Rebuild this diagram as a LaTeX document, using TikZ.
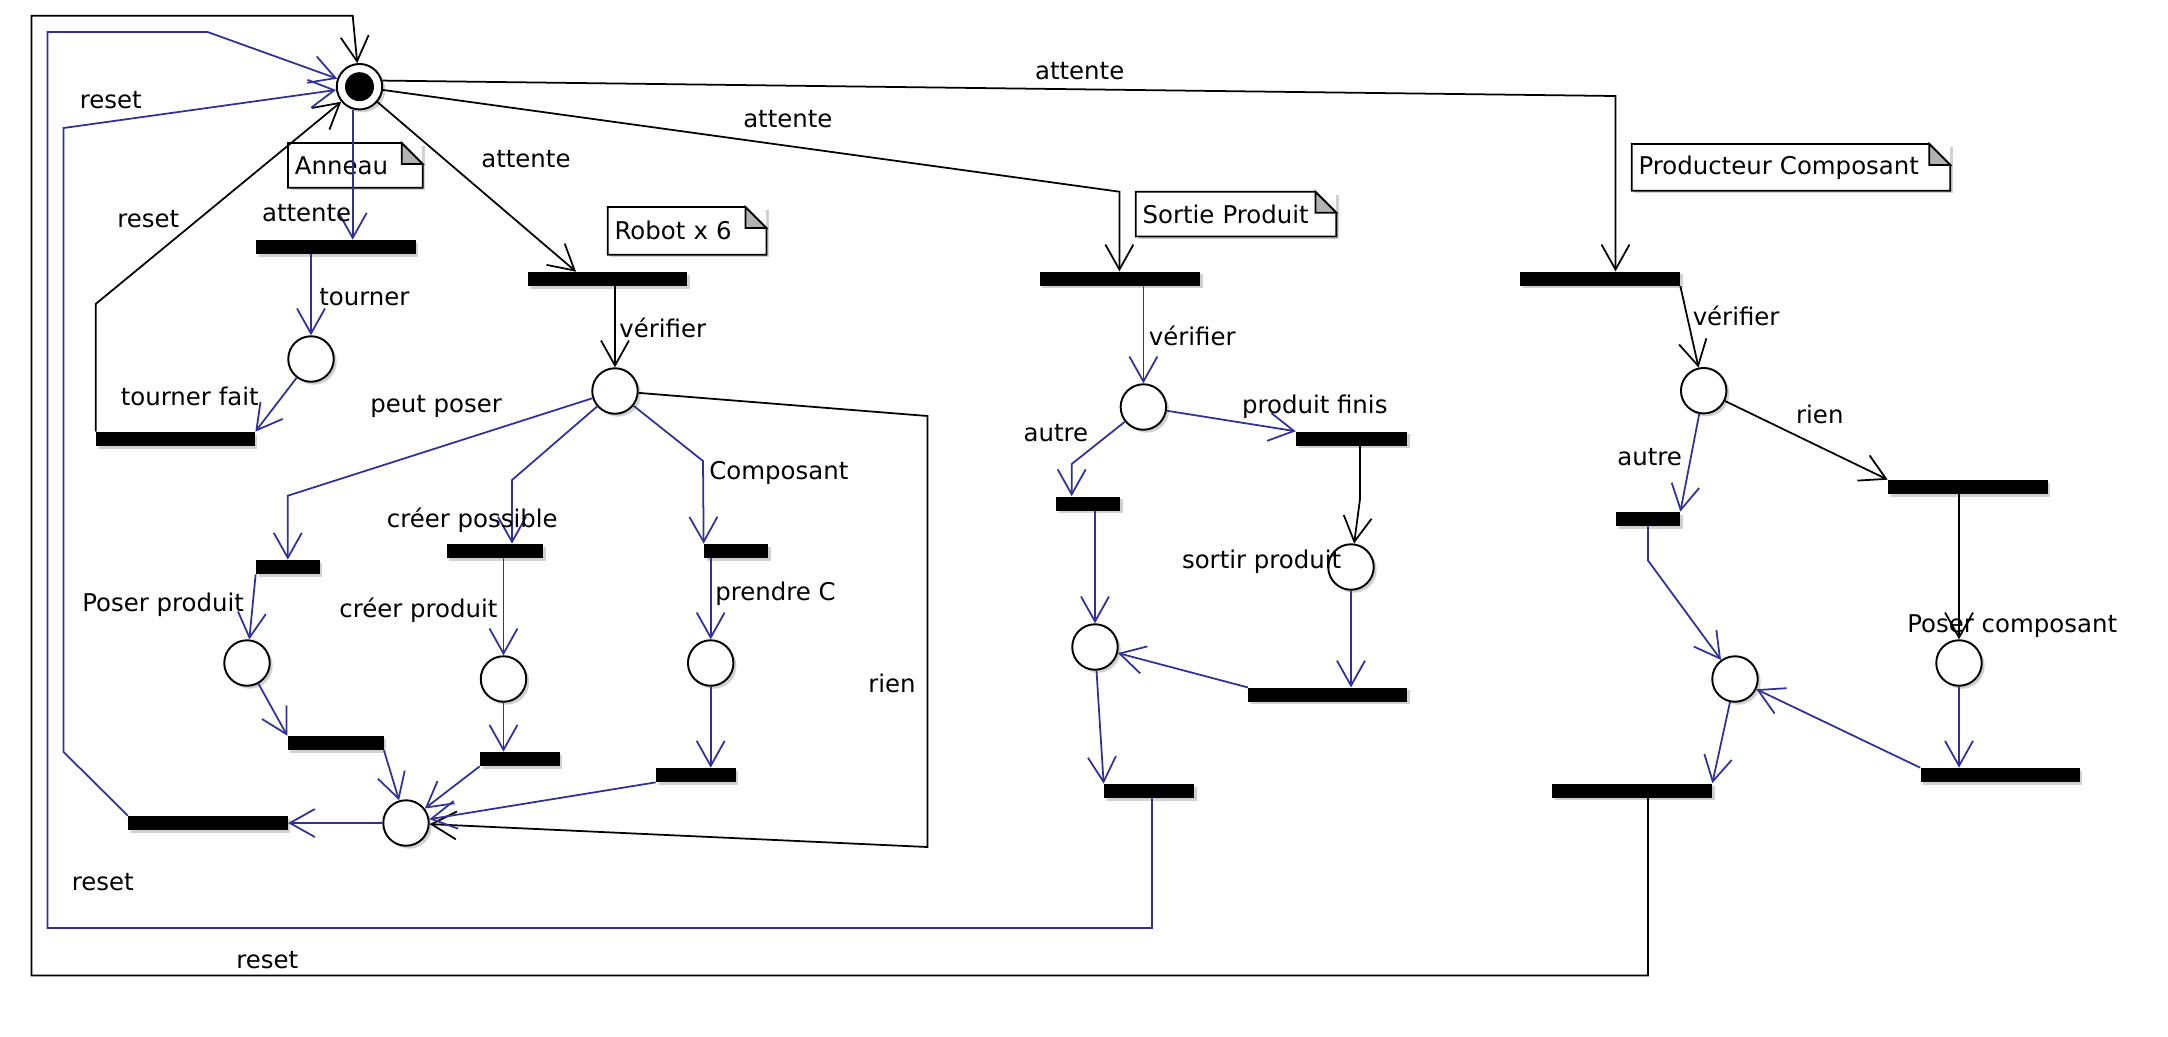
\documentclass[tikz,border=0pt]{standalone}
\usepackage{fontspec}
\setmainfont{DejaVu Sans}
\usetikzlibrary{arrows.meta,shadows}
\definecolor{pnblue}{RGB}{48,48,150}

\begin{document}
\begin{tikzpicture}[x=0.02cm,y=-0.02cm,
  every node/.style={font=\fontsize{13.9}{16}\selectfont},
  placenode/.style={circle,draw,line width=1.1pt,fill=white,minimum size=0.91cm,inner sep=0pt,
    drop shadow={shadow xshift=0.06cm,shadow yshift=-0.06cm,fill=black!18,opacity=1}},
  transbar/.style={rectangle,fill=black,minimum height=0.28cm,inner sep=0pt,
    drop shadow={shadow xshift=0.05cm,shadow yshift=-0.05cm,fill=black!18,opacity=1}},
  notebox/.style={anchor=north west,align=left,fill=white,inner xsep=0.13cm,inner ysep=0pt,
    minimum height=0.88cm,
    drop shadow={shadow xshift=0.06cm,shadow yshift=-0.06cm,fill=black!18,opacity=1}},
  lbl/.style={anchor=base west,inner sep=0pt},
  arcK/.style={draw=black,line width=1pt,-{Straight Barb[length=0.5cm,width=0.56cm]}},
  arcB/.style={arcK,draw=pnblue},
]
\path[use as bounding box] (0,0) rectangle (2168,1036);

% notes
\node[notebox,text width=2.42cm] (nAnneau) at (288,143) {Anneau};
\node[notebox,text width=2.9cm,minimum height=0.94cm] (nRobot) at (607.7,207) {Robot x 6};
\node[notebox,text width=3.74cm] (nSortie) at (1135.7,191.7) {Sortie Produit};
\node[notebox,text width=6.1cm,minimum height=0.92cm] (nProd) at (1631.7,144) {Producteur Composant};
\draw[line width=1pt] (nAnneau.south west) -- (nAnneau.north west) -- ([xshift=-0.42cm]nAnneau.north east) -- ([yshift=-0.42cm]nAnneau.north east) -- (nAnneau.south east) -- cycle;
\draw[line width=1pt,fill=black!30] ([xshift=-0.42cm]nAnneau.north east) -- ([yshift=-0.42cm]nAnneau.north east) -- ([xshift=-0.42cm,yshift=-0.42cm]nAnneau.north east) -- cycle;
\draw[line width=1pt] (nRobot.south west) -- (nRobot.north west) -- ([xshift=-0.42cm]nRobot.north east) -- ([yshift=-0.42cm]nRobot.north east) -- (nRobot.south east) -- cycle;
\draw[line width=1pt,fill=black!30] ([xshift=-0.42cm]nRobot.north east) -- ([yshift=-0.42cm]nRobot.north east) -- ([xshift=-0.42cm,yshift=-0.42cm]nRobot.north east) -- cycle;
\draw[line width=1pt] (nSortie.south west) -- (nSortie.north west) -- ([xshift=-0.42cm]nSortie.north east) -- ([yshift=-0.42cm]nSortie.north east) -- (nSortie.south east) -- cycle;
\draw[line width=1pt,fill=black!30] ([xshift=-0.42cm]nSortie.north east) -- ([yshift=-0.42cm]nSortie.north east) -- ([xshift=-0.42cm,yshift=-0.42cm]nSortie.north east) -- cycle;
\draw[line width=1pt] (nProd.south west) -- (nProd.north west) -- ([xshift=-0.42cm]nProd.north east) -- ([yshift=-0.42cm]nProd.north east) -- (nProd.south east) -- cycle;
\draw[line width=1pt,fill=black!30] ([xshift=-0.42cm]nProd.north east) -- ([yshift=-0.42cm]nProd.north east) -- ([xshift=-0.42cm,yshift=-0.42cm]nProd.north east) -- cycle;

% places
\node[placenode] (pInit) at (359.5,86.7) {};
\node[circle,fill=black,minimum size=0.58cm,inner sep=0pt] (pInitDot) at (pInit) {};
\node[placenode] (pTourner) at (311,359) {};
\node[placenode] (pRobot) at (615,391) {};
\node[placenode] (pPoser) at (247,663) {};
\node[placenode] (pCreer) at (503.5,679) {};
\node[placenode] (pPrendre) at (710.7,663) {};
\node[placenode] (pJoin) at (406,823) {};
\node[placenode] (pSorVerif) at (1143.4,407) {};
\node[placenode] (pSorSortir) at (1351,567) {};
\node[placenode] (pSorJoin) at (1095,647) {};
\node[placenode] (pProVerif) at (1703.7,390.7) {};
\node[placenode] (pProPoser) at (1959,663) {};
\node[placenode] (pProJoin) at (1735,679) {};

% transitions
\node[transbar,minimum width=3.2cm] (tAnnAtt) at (336,247) {};
\node[transbar,minimum width=3.18cm] (tAnnFait) at (175.5,439) {};
\node[transbar,minimum width=3.19cm] (tRobAtt) at (607.75,279) {};
\node[transbar,minimum width=1.28cm] (tPoserDeb) at (288,567) {};
\node[transbar,minimum width=1.93cm] (tCreerDeb) at (495,551) {};
\node[transbar,minimum width=1.28cm] (tCompDeb) at (736,551) {};
\node[transbar,minimum width=1.92cm] (tPoserFin) at (335.6,743) {};
\node[transbar,minimum width=1.6cm] (tCreerFin) at (520,759) {};
\node[transbar,minimum width=1.6cm] (tPrendFin) at (696,775) {};
\node[transbar,minimum width=3.19cm] (tReset) at (208,823) {};
\node[transbar,minimum width=3.21cm] (tSorAtt) at (1120,278.7) {};
\node[transbar,minimum width=1.28cm] (tSorAutre) at (1088,503.5) {};
\node[transbar,minimum width=2.22cm] (tSorFinis) at (1351.6,438.6) {};
\node[transbar,minimum width=3.18cm] (tSorSortir) at (1327.8,694.8) {};
\node[transbar,minimum width=1.8cm] (tSorFin) at (1149,791) {};
\node[transbar,minimum width=3.2cm] (tProAtt) at (1600,278.7) {};
\node[transbar,minimum width=1.28cm] (tProAutre) at (1648,519) {};
\node[transbar,minimum width=3.19cm] (tProRien) at (1967.75,487) {};
\node[transbar,minimum width=3.18cm] (tProPoser) at (2000,775) {};
\node[transbar,minimum width=3.2cm] (tProFin) at (1632,790.5) {};

% Anneau
\draw[arcB] (pInit.south -| 352.7,0) -- (tAnnAtt.north -| 352.7,0);
\draw[arcB] (tAnnAtt.south -| pTourner) -- (pTourner);
\draw[arcB] (pTourner) -- (tAnnFait.north east);
\draw[arcK] (tAnnFait.north west) -- (tAnnFait.north west |- 0,304) -- (pInit);

% Robot
\draw[arcK] (pInit) -- (tRobAtt.north -| 576,0);
\draw[arcK] (tRobAtt.south -| pRobot) -- (pRobot);
\draw[arcB] (pRobot) -- (287.8,495.7) -- (tPoserDeb.north -| 287.8,0);
\draw[arcB] (pRobot) -- (512,480) -- (tCreerDeb.north -| 512,0);
\draw[arcB] (pRobot) -- (703,461) -- (tCompDeb.north west);
\draw[arcK] (pRobot) -- (927.6,416) -- (927.6,847) -- (pJoin);
\draw[arcB] (tPoserDeb.south west) -- (pPoser);
\draw[arcB] (pPoser) -- (tPoserFin.north west);
\draw[arcB] (tPoserFin.south east) -- (pJoin);
\draw[arcB] (tCreerDeb.south -| pCreer) -- (pCreer);
\draw[arcB] (pCreer) -- (tCreerFin.north -| pCreer);
\draw[arcB] (tCreerFin.south west) -- (pJoin);
\draw[arcB] (tCompDeb.south -| pPrendre) -- (pPrendre);
\draw[arcB] (pPrendre) -- (tPrendFin.north -| pPrendre);
\draw[arcB] (tPrendFin.south west) -- (pJoin);
\draw[arcB] (pJoin) -- (tReset.east);
\draw[arcB] (tReset.north west) -- (63.6,752) -- (63.6,128) -- (pInit);

% Sortie Produit
\draw[arcK] (pInit) -- (1119.4,191.7) -- (tSorAtt.north -| 1119.4,0);
\draw[arcB] (tSorAtt.south -| pSorVerif) -- (pSorVerif);
\draw[arcB] (pSorVerif) -- (tSorFinis.north west);
\draw[arcB] (pSorVerif) -- (1071.7,464) -- (tSorAutre.north -| 1071.7,0);
\draw[arcK] (tSorFinis.south -| 1360,0) -- (1360,499) -- (pSorSortir);
\draw[arcB] (pSorSortir) -- (tSorSortir.north -| pSorSortir);
\draw[arcB] (tSorSortir.north west) -- (pSorJoin);
\draw[arcB] (tSorAutre.south -| pSorJoin) -- (pSorJoin);
\draw[arcB] (pSorJoin) -- (tSorFin.north west);
\draw[arcB] (tSorFin.south -| 1152,0) -- (1152,928) -- (47.5,928) -- (47.5,32) -- (207.6,32) -- (pInit);

% Producteur Composant
\draw[arcK] (pInit.15) -- (1615.5,96) -- (tProAtt.north -| 1615.5,0);
\draw[arcK] (tProAtt.south east) -- (pProVerif);
\draw[arcK] (pProVerif) -- (tProRien.north west);
\draw[arcB] (pProVerif) -- (tProAutre.north east);
\draw[arcK] (tProRien.south -| pProPoser) -- (pProPoser);
\draw[arcB] (pProPoser) -- (tProPoser.north -| pProPoser);
\draw[arcB] (tProPoser.north west) -- (pProJoin);
\draw[arcB] (tProAutre.south) -- (1648,560.5) -- (pProJoin);
\draw[arcB] (pProJoin) -- (tProFin.north east);
\draw[arcK] (tProFin.south -| 1648,0) -- (1648,975.4) -- (31.5,975.4) -- (31.5,15.7) -- (352.7,15.7) -- (pInit);

% labels
\node[lbl] (lAtt1) at (1034.7,79) {attente};
\node[lbl] (lAtt2) at (742.9,127) {attente};
\node[lbl] (lAtt3) at (481,167) {attente};
\node[lbl] (lAtt4) at (261.7,221) {attente};
\node[lbl] (lReset1) at (79.5,108) {reset};
\node[lbl] (lReset2) at (117,227) {reset};
\node[lbl] (lReset3) at (71.5,890) {reset};
\node[lbl] (lReset4) at (236,968) {reset};
\node[lbl] (lTourner) at (319,305) {tourner};
\node[lbl] (lTournerFait) at (120.5,405) {tourner fait};
\node[lbl] (lVerif1) at (619,337) {vérifier};
\node[lbl] (lPeutPoser) at (370,412) {peut poser};
\node[lbl] (lCreerPos) at (386.5,527) {créer possible};
\node[lbl] (lComposant) at (709,479) {Composant};
\node[lbl] (lPoserProd) at (82,611) {Poser produit};
\node[lbl] (lCreerProd) at (339,617) {créer produit};
\node[lbl] (lPrendreC) at (715,600) {prendre C};
\node[lbl] (lRien1) at (868,692) {rien};
\node[lbl] (lVerif2) at (1148.5,345) {vérifier};
\node[lbl] (lAutre1) at (1023.3,441) {autre};
\node[lbl] (lFinis) at (1241.7,413) {produit finis};
\node[lbl] (lSortir) at (1181.7,568) {sortir produit};
\node[lbl] (lVerif3) at (1692.4,325) {vérifier};
\node[lbl] (lRien2) at (1795.8,423) {rien};
\node[lbl] (lAutre2) at (1617,465) {autre};
\node[lbl] (lPoserComp) at (1907,632) {Poser composant};
\end{tikzpicture}
\end{document}
